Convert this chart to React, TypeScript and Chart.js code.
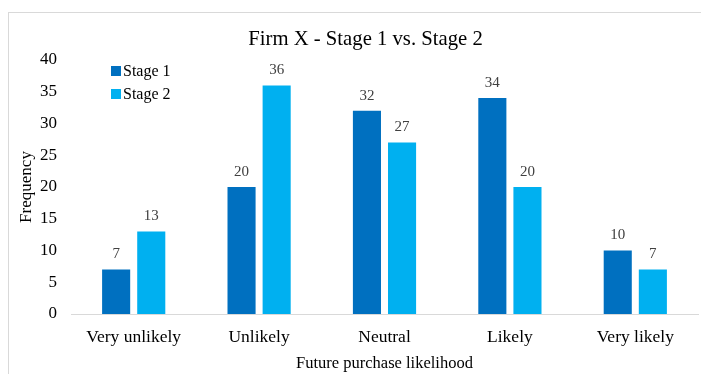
import React, { useEffect, useRef } from "react";
import { Chart, registerables } from "chart.js";

Chart.register(...registerables);

const TITLE = "Firm X - Stage 1 vs. Stage 2";
const CATEGORIES = ["Very unlikely", "Unlikely", "Neutral", "Likely", "Very likely"];
const SERIES_NAMES = ["Stage 1", "Stage 2"];
const STAGE1 = [7, 20, 32, 34, 10];
const STAGE2 = [13, 36, 27, 20, 7];
const COLORS = ["#0070C0", "#00B0F0"];
const Y_MIN = 0;
const Y_MAX = 40;
const Y_STEP = 5;
const X_TITLE = "Future purchase likelihood";
const Y_TITLE = "Frequency";
const FONT = "'Liberation Serif', 'Times New Roman', serif";

const W = 701;
const H = 366;

const framePlugin = {
  id: "frame",
  beforeDraw(chart: any) {
    const ctx = chart.ctx;
    ctx.save();
    ctx.fillStyle = "#ffffff";
    ctx.fillRect(0, 0, chart.width, chart.height);
    ctx.strokeStyle = "#d9d9d9";
    ctx.lineWidth = 1;
    ctx.strokeRect(0.5, 4.5, chart.width + 10, chart.height + 10);
    ctx.restore();
  },
};

const titlePlugin = {
  id: "customTitle",
  afterDraw(chart: any) {
    const ctx = chart.ctx;
    ctx.save();
    ctx.font = `20.7px ${FONT}`;
    ctx.fillStyle = "#000000";
    ctx.textAlign = "center";
    ctx.textBaseline = "middle";
    ctx.fillText(TITLE, chart.width / 2 + 7, 32);
    ctx.restore();
  },
};

const valueLabelPlugin = {
  id: "valueLabels",
  afterDatasetsDraw(chart: any) {
    const ctx = chart.ctx;
    ctx.save();
    ctx.font = `15px ${FONT}`;
    ctx.fillStyle = "#404040";
    ctx.textAlign = "center";
    ctx.textBaseline = "middle";
    chart.data.datasets.forEach((ds: any, i: number) => {
      const meta = chart.getDatasetMeta(i);
      meta.data.forEach((el: any, j: number) => {
        ctx.fillText(String(ds.data[j]), el.x, el.y - 15);
      });
    });
    ctx.restore();
  },
};

const insideLegendPlugin = {
  id: "insideLegend",
  afterDraw(chart: any) {
    const ctx = chart.ctx;
    const area = chart.chartArea;
    ctx.save();
    ctx.font = `16px ${FONT}`;
    ctx.textBaseline = "middle";
    ctx.textAlign = "left";
    chart.data.datasets.forEach((ds: any, i: number) => {
      const x = area.left + 40;
      const y = area.top + 11 + i * 23;
      ctx.fillStyle = ds.backgroundColor;
      ctx.fillRect(x, y - 5, 10, 10);
      ctx.fillStyle = "#000000";
      ctx.fillText(ds.label, x + 12, y + 1);
    });
    ctx.restore();
  },
};

export default function App() {
  const ref = useRef<HTMLCanvasElement | null>(null);

  useEffect(() => {
    if (!ref.current) return;
    const chart = new Chart(ref.current, {
      type: "bar",
      data: {
        labels: CATEGORIES,
        datasets: [
          { label: SERIES_NAMES[0], data: STAGE1, backgroundColor: COLORS[0] },
          { label: SERIES_NAMES[1], data: STAGE2, backgroundColor: COLORS[1] },
        ],
      },
      options: {
        responsive: false,
        animation: false,
        devicePixelRatio: 1,
        layout: { padding: { top: 52, right: 11, bottom: 0, left: 0 } },
        datasets: {
          bar: { categoryPercentage: 0.56, barPercentage: 0.8 },
        },
        plugins: {
          legend: { display: false },
          title: { display: false },
          tooltip: { enabled: false },
        },
        scales: {
          x: {
            grid: { display: false, drawTicks: false },
            border: { display: true, color: "#d9d9d9", width: 1 },
            ticks: { color: "#000000", font: { family: FONT, size: 17.5 }, padding: 13, maxRotation: 0 },
            title: {
              display: true,
              text: X_TITLE,
              color: "#000000",
              font: { family: FONT, size: 16.5 },
              padding: { top: 0, bottom: 0 },
            },
            afterFit(scale: any) {
              scale.height = 60;
            },
          },
          y: {
            min: Y_MIN,
            max: Y_MAX,
            grid: { display: false, drawTicks: false },
            border: { display: false },
            ticks: { stepSize: Y_STEP, color: "#000000", font: { family: FONT, size: 17 }, padding: 14 },
            title: {
              display: true,
              text: Y_TITLE,
              color: "#000000",
              font: { family: FONT, size: 17 },
              padding: { top: 8, bottom: 0 },
            },
            afterFit(scale: any) {
              scale.width = 63;
            },
          },
        },
      },
      plugins: [framePlugin, titlePlugin, valueLabelPlugin, insideLegendPlugin],
    });
    return () => chart.destroy();
  }, []);

  return (
    <canvas
      ref={ref}
      width={W}
      height={H}
      style={{ display: "block", width: W + "px", height: H + "px" }}
    />
  );
}
